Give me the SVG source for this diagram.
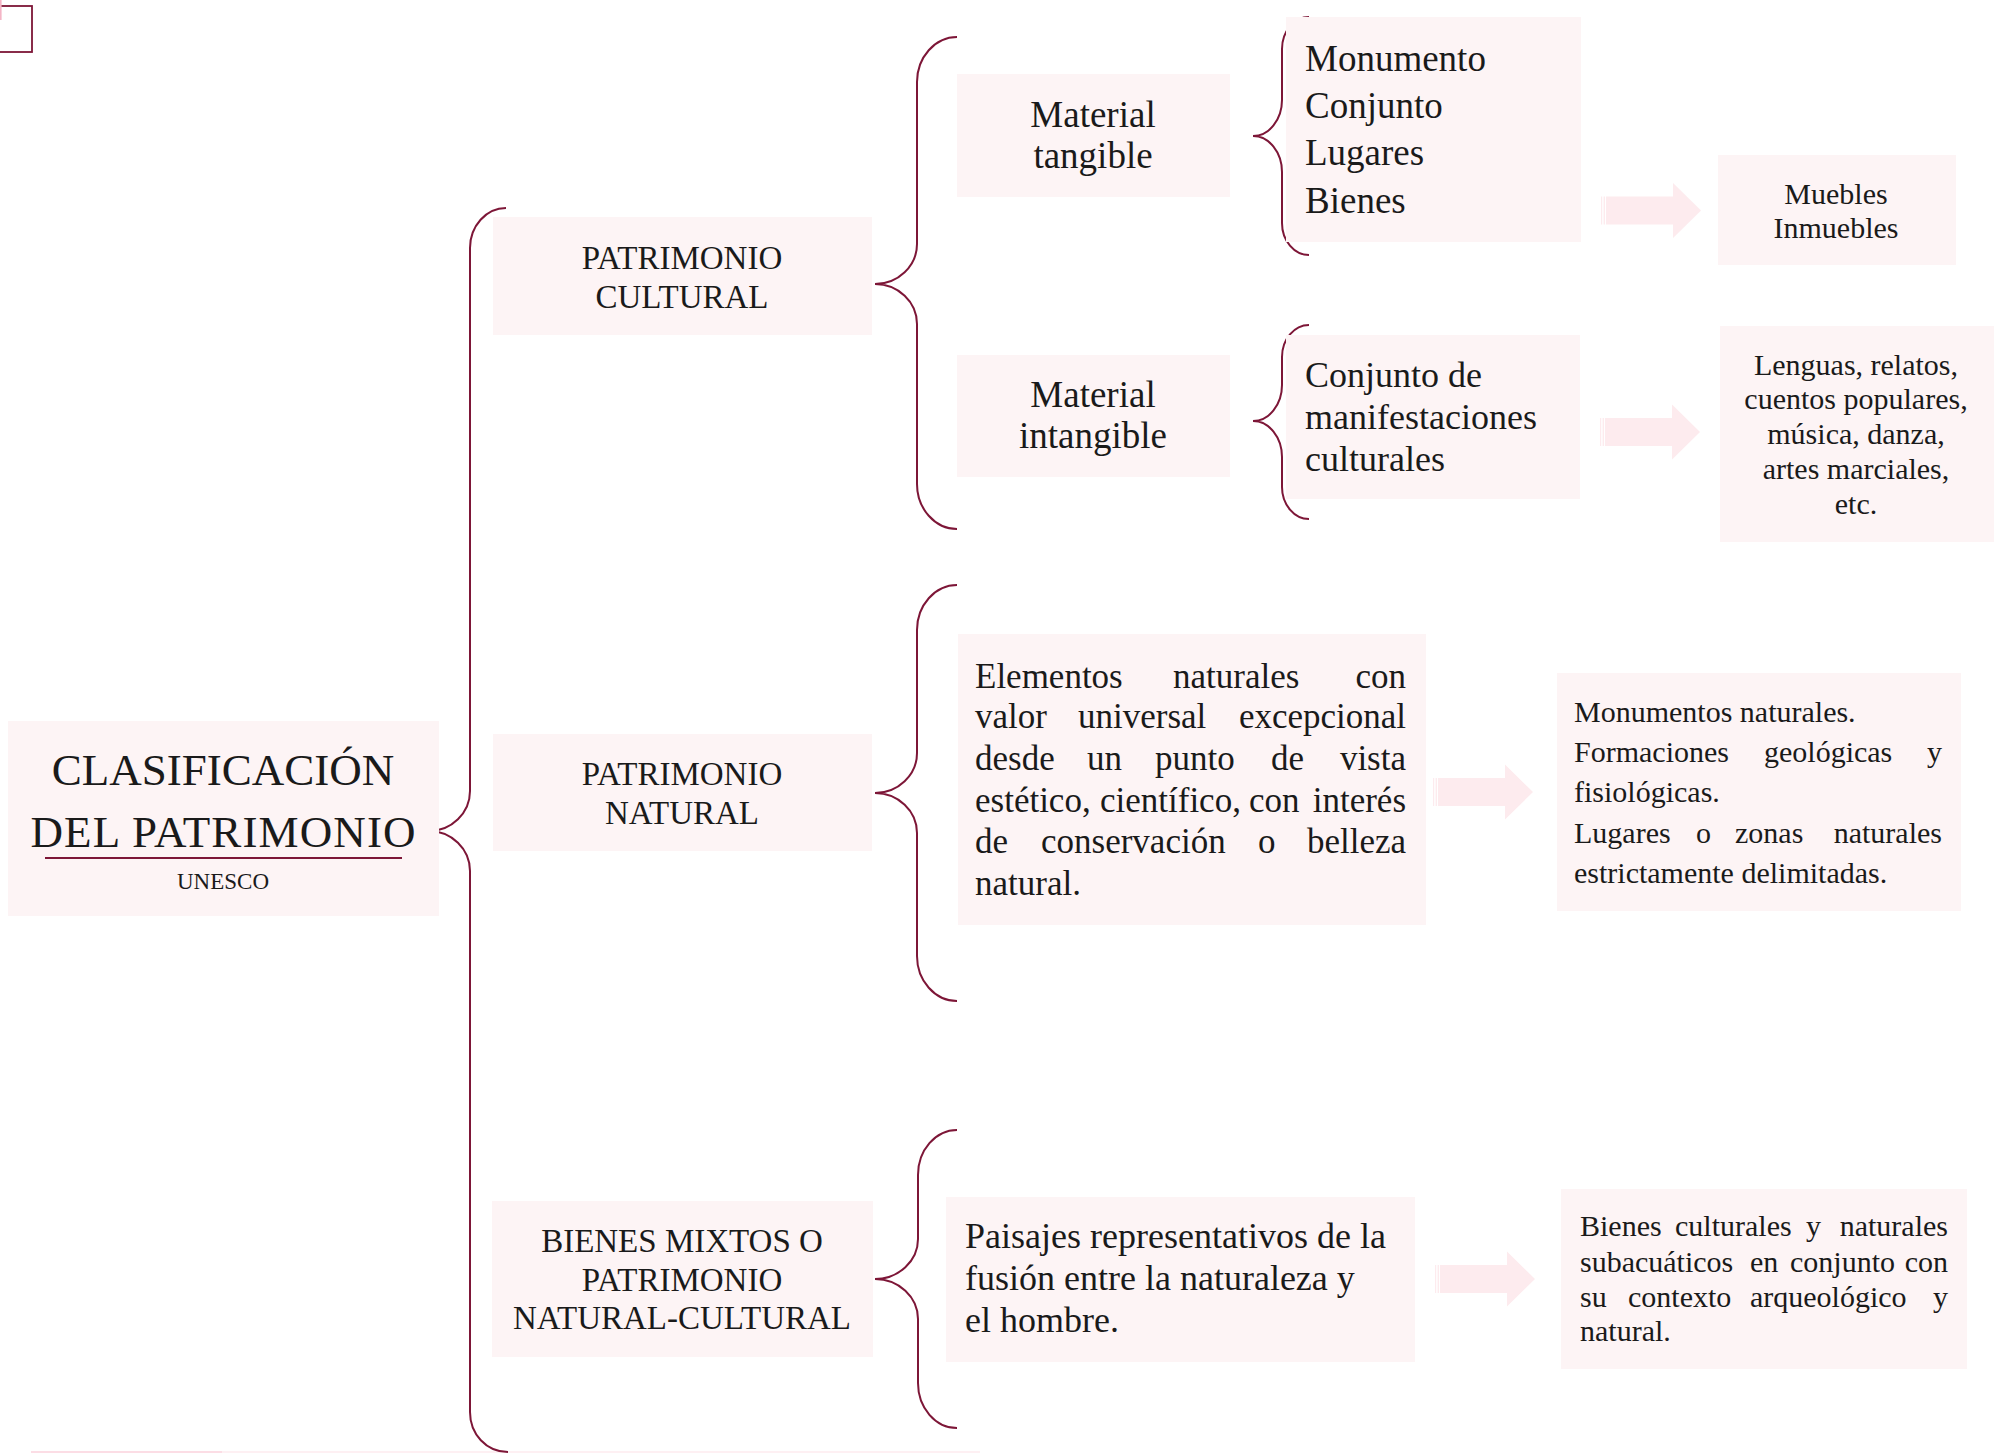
<svg xmlns="http://www.w3.org/2000/svg" width="1994" height="1453" viewBox="0 0 1994 1453">
  <style>
    .box { fill: #FDF4F5; }
    .brace { fill: none; stroke: #7D1637; stroke-width: 2; }
    .arrow { fill: #FDEBEE; }
    text { font-family: "Liberation Serif", "Times New Roman", serif; fill: #1a1a1a; }
    .c { text-anchor: middle; }
    .e { text-anchor: end; }
    .s30 { font-size: 30px; }
    .s33 { font-size: 33px; }
    .s35 { font-size: 35px; }
    .s36 { font-size: 36px; }
    .s37 { font-size: 37px; }
    .s45 { font-size: 45px; }
  </style>
  <defs>
    <!-- block arrow with a striped tail, drawn from tail (x=0) to tip (x=100) -->
    <g id="blockArrow">
      <rect class="arrow" x="0" y="-14" width="1.2" height="28"/>
      <rect class="arrow" x="2.6" y="-14" width="1.4" height="28"/>
      <path class="arrow" d="M5,-14 H72 V-27.5 L100,0 L72,27.5 V14 H5 Z"/>
    </g>
  </defs>

  <rect width="1994" height="1453" fill="#ffffff"/>

  <!-- small frame in the top-left corner -->
  <rect x="-4" y="6" width="36" height="46" fill="none" stroke="#7D1637" stroke-width="1.8"/>
  <rect x="0" y="0" width="1.6" height="20" fill="#F4B5C6"/>
  <!-- strip along the bottom edge -->
  <rect x="31" y="1451" width="191" height="2" fill="#FCDDE5"/>
  <rect x="222" y="1451" width="758" height="2" fill="#FEF0F3"/>

  <g id="connectors">
    <path class="brace" d="M506,208 C486.2,208 470,226 470,248 L470,791 C470,813 451.5,831 429,831 C451.5,831 470,849 470,871 L470,1412 C470,1434 486.2,1452 508,1452"/>
    <path class="brace" d="M957,37 C935,37 917,57.25 917,82 L917,244 C917,266 898.1,284 875,284 C898.1,284 917,302 917,324 L917,484 C917,508.75 935,529 957,529"/>
    <path class="brace" d="M957,585 C935,585 917,605.25 917,630 L917,753 C917,775 898.1,793 875,793 C898.1,793 917,811 917,833 L917,956 C917,980.75 935,1001 957,1001"/>
    <path class="brace" d="M957,1130 C935.5,1130 918,1150.25 918,1175 L918,1239 C918,1261 898.6,1279 875,1279 C898.6,1279 918,1297 918,1319 L918,1383 C918,1407.75 935.5,1428 957,1428"/>
    <path class="brace" d="M1309,17 C1294.2,17 1282,31.4 1282,49 L1282,100 C1282,119.8 1269,136 1253,136 C1269,136 1282,152.2 1282,172 L1282,223 C1282,240.6 1294.2,255 1309,255"/>
    <path class="brace" d="M1309,325 C1294.2,325 1282,339.4 1282,357 L1282,385 C1282,404.8 1269,421 1253,421 C1269,421 1282,437.2 1282,457 L1282,487 C1282,504.6 1294.2,519 1309,519"/>
    <use href="#blockArrow" transform="translate(1601,210.5)"/>
    <use href="#blockArrow" transform="translate(1600,432)"/>
    <use href="#blockArrow" transform="translate(1433,792)"/>
    <use href="#blockArrow" transform="translate(1435,1279)"/>
  </g>

  <g id="node-clasificacion">
    <rect class="box" x="8" y="721" width="431" height="195"/>
    <text class="c s45" x="223" y="785">CLASIFICACIÓN</text>
    <text class="c s45" x="223" y="847" textLength="385">DEL PATRIMONIO</text>
    <line x1="45" y1="858" x2="402" y2="858" stroke="#7D1637" stroke-width="2"/>
    <text class="c" x="223" y="889" font-size="23">UNESCO</text>
  </g>

  <g id="node-patrimonio-cultural">
    <rect class="box" x="493" y="217" width="379" height="118"/>
    <text class="c s33" x="682" y="269">PATRIMONIO</text>
    <text class="c s33" x="682" y="308">CULTURAL</text>
  </g>

  <g id="node-patrimonio-natural">
    <rect class="box" x="493" y="734" width="379" height="117"/>
    <text class="c s33" x="682" y="785">PATRIMONIO</text>
    <text class="c s33" x="682" y="824">NATURAL</text>
  </g>

  <g id="node-bienes-mixtos">
    <rect class="box" x="492" y="1201" width="381" height="156"/>
    <text class="c s33" x="682" y="1252">BIENES MIXTOS O</text>
    <text class="c s33" x="682" y="1291">PATRIMONIO</text>
    <text class="c s33" x="682" y="1329">NATURAL-CULTURAL</text>
  </g>

  <g id="node-material-tangible">
    <rect class="box" x="957" y="74" width="273" height="123"/>
    <text class="c s37" x="1093" y="127">Material</text>
    <text class="c s37" x="1093" y="168">tangible</text>
  </g>

  <g id="node-material-intangible">
    <rect class="box" x="957" y="355" width="273" height="122"/>
    <text class="c s37" x="1093" y="407">Material</text>
    <text class="c s37" x="1093" y="448">intangible</text>
  </g>

  <g id="node-tipos-tangible">
    <rect class="box" x="1286" y="17" width="295" height="225"/>
    <text class="s37" x="1305" y="71">Monumento</text>
    <text class="s37" x="1305" y="118">Conjunto</text>
    <text class="s37" x="1305" y="165">Lugares</text>
    <text class="s37" x="1305" y="213">Bienes</text>
  </g>

  <g id="node-manifestaciones">
    <rect class="box" x="1286" y="335" width="294" height="164"/>
    <text class="s36" x="1305" y="387">Conjunto de</text>
    <text class="s36" x="1305" y="429">manifestaciones</text>
    <text class="s36" x="1305" y="471">culturales</text>
  </g>

  <g id="node-muebles">
    <rect class="box" x="1718" y="155" width="238" height="110"/>
    <text class="c s30" x="1836" y="204">Muebles</text>
    <text class="c s30" x="1836" y="238">Inmuebles</text>
  </g>

  <g id="node-lenguas">
    <rect class="box" x="1720" y="326" width="274" height="216"/>
    <text class="c s30" x="1856" y="375">Lenguas, relatos,</text>
    <text class="c s30" x="1856" y="409">cuentos populares,</text>
    <text class="c s30" x="1856" y="444">música, danza,</text>
    <text class="c s30" x="1856" y="479">artes marciales,</text>
    <text class="c s30" x="1856" y="514">etc.</text>
  </g>

  <g id="node-elementos-naturales">
    <rect class="box" x="958" y="634" width="468" height="291"/>
    <text class="s35" x="975" y="688">Elementos</text>
    <text class="s35" x="1173" y="688">naturales</text>
    <text class="s35 e" x="1406" y="688">con</text>
    <text class="s35" x="975" y="728">valor</text>
    <text class="s35" x="1078" y="728">universal</text>
    <text class="s35 e" x="1406" y="728">excepcional</text>
    <text class="s35" x="975" y="770">desde</text>
    <text class="s35" x="1087" y="770">un</text>
    <text class="s35" x="1155" y="770">punto</text>
    <text class="s35" x="1271" y="770">de</text>
    <text class="s35 e" x="1406" y="770">vista</text>
    <text class="s35" x="975" y="812">estético,</text>
    <text class="s35" x="1100" y="812">científico,</text>
    <text class="s35" x="1249" y="812">con</text>
    <text class="s35 e" x="1406" y="812">interés</text>
    <text class="s35" x="975" y="853">de</text>
    <text class="s35" x="1041" y="853">conservación</text>
    <text class="s35" x="1258" y="853">o</text>
    <text class="s35 e" x="1406" y="853">belleza</text>
    <text class="s35" x="975" y="895">natural.</text>
  </g>

  <g id="node-monumentos-naturales">
    <rect class="box" x="1557" y="673" width="404" height="238"/>
    <text class="s30" x="1574" y="722">Monumentos naturales.</text>
    <text class="s30" x="1574" y="762">Formaciones</text>
    <text class="s30" x="1764" y="762">geológicas</text>
    <text class="s30 e" x="1942" y="762">y</text>
    <text class="s30" x="1574" y="802">fisiológicas.</text>
    <text class="s30" x="1574" y="843">Lugares</text>
    <text class="s30" x="1696" y="843">o</text>
    <text class="s30" x="1735" y="843">zonas</text>
    <text class="s30 e" x="1942" y="843">naturales</text>
    <text class="s30" x="1574" y="883">estrictamente delimitadas.</text>
  </g>

  <g id="node-paisajes">
    <rect class="box" x="946" y="1197" width="469" height="165"/>
    <text class="s36" x="965" y="1248">Paisajes representativos de la</text>
    <text class="s36" x="965" y="1290">fusión entre la naturaleza y</text>
    <text class="s36" x="965" y="1332">el hombre.</text>
  </g>

  <g id="node-bienes-subacuaticos">
    <rect class="box" x="1561" y="1189" width="406" height="180"/>
    <text class="s30" x="1580" y="1236">Bienes</text>
    <text class="s30" x="1675" y="1236">culturales</text>
    <text class="s30" x="1806" y="1236">y</text>
    <text class="s30 e" x="1948" y="1236">naturales</text>
    <text class="s30" x="1580" y="1272">subacuáticos</text>
    <text class="s30" x="1750" y="1272">en</text>
    <text class="s30" x="1790" y="1272">conjunto</text>
    <text class="s30 e" x="1948" y="1272">con</text>
    <text class="s30" x="1580" y="1307">su</text>
    <text class="s30" x="1628" y="1307">contexto</text>
    <text class="s30" x="1750" y="1307">arqueológico</text>
    <text class="s30 e" x="1948" y="1307">y</text>
    <text class="s30" x="1580" y="1341">natural.</text>
  </g>
</svg>
